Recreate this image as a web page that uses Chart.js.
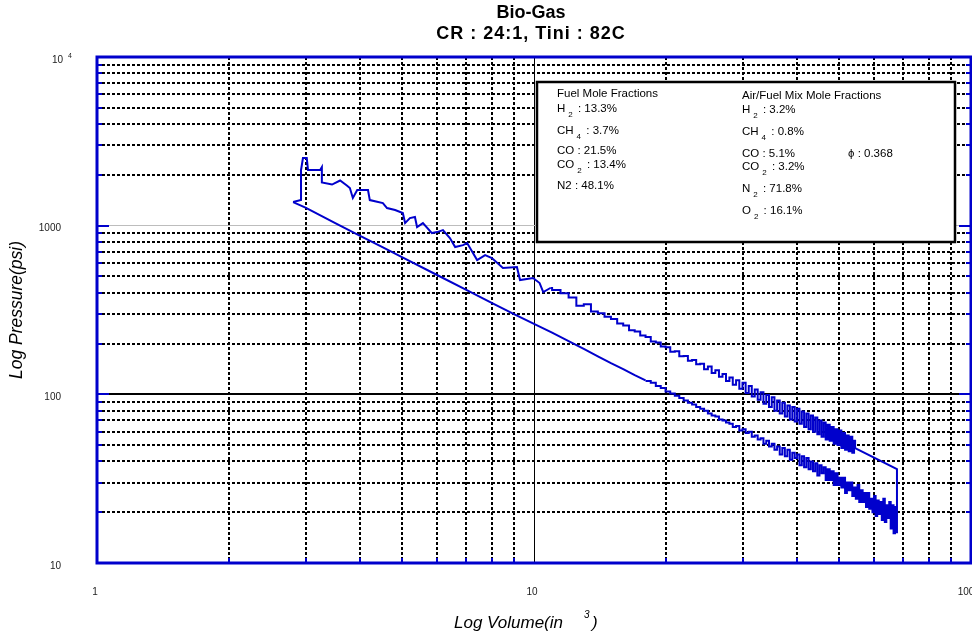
<!DOCTYPE html>
<html>
<head>
<meta charset="utf-8">
<script src="https://cdn.jsdelivr.net/npm/chart.js@4.4.0/dist/chart.umd.min.js"></script>
<style>
  html, body { margin: 0; padding: 0; background: #fff; }
  #wrap { width: 972px; height: 635px; }
</style>
</head>
<body>
<div id="wrap"><canvas id="pv" width="972" height="635"></canvas></div>
<script>
// chart texts
const titleLines = ['Bio-Gas', 'CR : 24:1, Tini : 82C'];
const xTitle = 'Log Volume(in';
const xTitleSup = '3';
const yTitle = 'Log Pressure(psi)';
const xTickValues = [1, 10, 100];
const xTickLabels = ['1', '10', '100'];
const yTickValues = [10, 100, 1000, 10000];
const yTickLabels = ['10', '100', '1000', '10'];
const yTickSup = ['', '', '', '4'];

// legend box texts: [main, subscript, rest]
const fuelHeader = 'Fuel Mole Fractions';
const fuelLines = [['H', '2', ' : 13.3%'], ['CH', '4', ' : 3.7%'], ['CO : 21.5%'], ['CO', '2', ' : 13.4%'], ['N2 : 48.1%']];
const mixHeader = 'Air/Fuel Mix Mole Fractions';
const mixLines = [['H', '2', ' : 3.2%'], ['CH', '4', ' : 0.8%'], ['CO : 5.1%'], ['CO', '2', ' : 3.2%'], ['N', '2', ' : 71.8%'], ['O', '2', ' : 16.1%']];
const phiText = '\u03d5 : 0.368';

// compression stroke, smooth part (volume in^3, pressure psi)
const compressionVolume = [2.81, 3.0, 3.5, 4.0, 4.5, 5.0, 6.0, 7.0, 8.0, 9.0,
  10.0, 11.0, 12.0, 13.0, 14.0, 15.0, 16.0, 17.0, 18.0];
const compressionPressure = [1380, 1280, 1040, 870, 745, 648, 510, 416, 349, 299,
  262, 232, 207, 186, 168, 153, 141, 130, 121];

// compression stroke, noisy part
const noisyVolume = [18, 18.5, 19, 19.5, 20, 20.5, 21, 21.5, 22, 22.5,
  23, 23.5, 24, 24.5, 25, 25.5, 26, 26.5, 27, 27.5,
  28, 28.5, 29, 29.5, 30, 30.5, 31, 31.5, 32, 32.5,
  33, 33.5, 34, 34.5, 35, 35.5, 36, 36.5, 37, 37.5,
  38, 38.5, 39, 39.5, 40, 40.5, 41, 41.5, 42, 42.5,
  43, 43.5, 44, 44.5, 45, 45.5, 46, 46.5, 47, 47.5,
  48, 48.5, 49, 49.5, 50, 50.5, 51, 51.5, 52, 52.5,
  53, 53.5, 54, 54.5, 55, 55.5, 56, 56.5, 57, 57.5,
  58, 58.5, 59, 59.5, 60, 60.5, 61, 61.5, 62, 62.5,
  63, 63.5, 64, 64.5, 65, 65.5, 66, 66.5, 67, 67.5];
const noisyPressure = [120, 117, 112, 109, 104, 101, 98, 95, 92, 89,
  87, 84, 82, 80, 77, 75, 74, 71, 70, 68,
  67, 64, 65, 61, 62, 59, 60, 56, 57, 54,
  55, 51, 53, 49, 51, 47, 49, 44, 48, 43,
  47, 41, 45, 42, 44, 38, 43, 37, 42, 36,
  40, 35, 39, 33, 38, 34, 37, 31, 36, 31,
  35, 29, 34, 29, 32, 28, 32, 26, 30, 27,
  30, 25, 28, 24, 29, 23, 27, 23, 26, 21.5,
  26, 21, 24, 20, 25, 19, 23.5, 19.5, 23, 18,
  24, 17.5, 22, 18.5, 23, 16, 22, 15, 21.5, 20];

// combustion and early expansion (traced corners)
const expansionVolume = [2.81, 2.93, 2.93, 2.96, 3.02, 3.04, 3.24, 3.27, 3.27, 3.45,
  3.60, 3.73, 3.79, 3.85, 3.94, 4.17, 4.21, 4.51, 4.61, 4.81,
  5.01, 5.07, 5.20, 5.34, 5.40, 5.57, 5.84, 6.00, 6.19, 6.42,
  6.60, 6.88, 7.03, 7.41, 7.73, 8.01, 8.49, 9.14, 9.29, 9.95,
  10.3, 10.5, 10.9];
const expansionPressure = [1380, 1419, 2138, 2518, 2518, 2138, 2138, 2225, 1803, 1753,
  1852, 1730, 1671, 1458, 1626, 1626, 1418, 1361, 1272, 1238,
  1188, 1036, 1109, 1125, 981, 1036, 904, 916, 942, 844,
  747, 767, 789, 625, 669, 643, 561, 568, 476, 489,
  457, 404, 427];

// late expansion, noisy
const lateVolume = [10.9, 11, 11.5, 12, 12.5, 13, 13.5, 14,
  14.5, 15, 15.5, 16, 16.5, 17, 17.5, 18, 18.5, 19,
  19.5, 20, 20.5, 21, 21.5, 22, 22.5, 23, 23.5, 24,
  24.5, 25, 25.5, 26, 26.5, 27, 27.5, 28, 28.5, 29,
  29.5, 30, 30.5, 31, 31.5, 32, 32.5, 33, 33.5, 34,
  34.5, 35, 35.5, 36, 36.5, 37, 37.5, 38, 38.5, 39,
  39.5, 40, 40.5, 41, 41.5, 42, 42.5, 43, 43.5, 44,
  44.5, 45, 45.5, 46, 46.5, 47, 47.5, 48, 48.5, 49,
  49.5, 50, 50.5, 51, 51.5, 52, 52.5, 53, 53.5, 54,
  54.3];
const latePressure = [427, 415, 398, 375, 335, 342, 310, 302,
  288, 280, 263, 256, 240, 236, 223, 219, 206, 203,
  192, 190, 179, 180, 168, 169, 158, 160, 151, 152,
  141, 146, 134, 139, 127, 132, 120, 126, 114, 121,
  108, 117, 102, 112, 97, 107, 93, 103, 88, 99,
  84, 96, 80, 92, 77, 89, 74, 86, 71, 84,
  69, 82, 67, 79, 64, 77, 62, 75, 60, 73,
  58, 70, 56, 68, 54, 66, 53, 64, 51, 62,
  50, 61, 48, 59, 47, 57, 46, 56, 45, 53,
  48];

// end of expansion and blowdown
const blowdownVolume = [54.3, 67.7, 67.7];
const blowdownPressure = [48, 36, 15];

const BLUE = 'rgb(0,0,204)';
const FONT = '"Liberation Sans", Arial, sans-serif';

function toPoints(vols, press) {
  return vols.map((v, i) => ({ x: v, y: press[i] }));
}

function isDecade(v) {
  const l = Math.log10(v);
  return Math.abs(l - Math.round(l)) < 1e-6;
}

// 1..9, 10..90, ... grid positions for a log axis
function logGrid(min, max) {
  const out = [];
  for (let d = min; d < max; d *= 10) {
    for (let k = 1; k < 10; k++) out.push(k * d);
  }
  out.push(max);
  return out;
}

function drawChem(ctx, x, y, parts) {
  ctx.font = '11.5px ' + FONT;
  ctx.fillText(parts[0], x, y);
  if (parts.length === 1) return;
  x += ctx.measureText(parts[0]).width + 3;
  ctx.font = '8px ' + FONT;
  ctx.fillText(parts[1], x, y + 6);
  x += ctx.measureText(parts[1]).width + 2;
  ctx.font = '11.5px ' + FONT;
  ctx.fillText(parts[2], x, y);
}

const framePlugin = {
  id: 'frame',
  beforeDatasetsDraw(chart) {
    const { ctx, chartArea: a, scales: { x, y } } = chart;
    ctx.save();
    ctx.strokeStyle = BLUE;
    ctx.lineWidth = 2;
    y.ticks.forEach(t => {
      const py = Math.round(y.getPixelForValue(t.value));
      const len = isDecade(t.value) ? 12 : 5;
      ctx.beginPath();
      ctx.moveTo(a.left, py); ctx.lineTo(a.left + len, py);
      ctx.moveTo(a.right - len, py); ctx.lineTo(a.right, py);
      ctx.stroke();
    });
    x.ticks.forEach(t => {
      if (isDecade(t.value)) return;
      const px = Math.round(x.getPixelForValue(t.value));
      ctx.beginPath();
      ctx.moveTo(px, a.bottom); ctx.lineTo(px, a.bottom - 5);
      ctx.stroke();
    });

    // mole fraction box
    ctx.fillStyle = '#fff';
    ctx.fillRect(537, 82, 418, 160);
    ctx.strokeStyle = '#000';
    ctx.lineWidth = 2.5;
    ctx.strokeRect(537, 82, 418, 160);
    ctx.fillStyle = '#000';
    ctx.textAlign = 'left';
    ctx.textBaseline = 'middle';
    ctx.font = '11.5px ' + FONT;
    ctx.fillText(fuelHeader, 557, 94);
    ctx.fillText(mixHeader, 742, 96);
    const fuelY = [109, 131, 151, 165, 185.5];
    fuelLines.forEach((p, i) => drawChem(ctx, 557, fuelY[i], p));
    const mixY = [110, 132, 154, 167, 188.5, 210.5];
    mixLines.forEach((p, i) => drawChem(ctx, 742, mixY[i], p));
    ctx.font = '11.5px ' + FONT;
    ctx.fillText(phiText, 848, 154);
    ctx.restore();
  },
  afterDraw(chart) {
    const { ctx, chartArea: a, scales: { x, y } } = chart;
    ctx.save();
    ctx.strokeStyle = BLUE;
    ctx.lineWidth = 3;
    ctx.strokeRect(a.left, a.top, a.right - a.left, a.bottom - a.top);

    ctx.fillStyle = '#000';
    ctx.textBaseline = 'middle';
    ctx.textAlign = 'center';
    ctx.font = 'bold 18px ' + FONT;
    ctx.fillText(titleLines[0], 531, 13);
    if ('letterSpacing' in ctx) ctx.letterSpacing = '1px';
    ctx.fillText(titleLines[1], 531, 34);
    if ('letterSpacing' in ctx) ctx.letterSpacing = '0px';

    ctx.font = '10px ' + FONT;
    ctx.fillStyle = '#222';
    xTickValues.forEach((v, i) => {
      let px = x.getPixelForValue(v) - 2;
      if (i === xTickValues.length - 1) px = 966;
      ctx.fillText(xTickLabels[i], px, 592);
    });
    yTickValues.forEach((v, i) => {
      const py = y.getPixelForValue(v);
      ctx.font = '10px ' + FONT;
      ctx.textAlign = 'right';
      ctx.fillText(yTickLabels[i], yTickSup[i] ? 63 : 61, py + 3);
      if (yTickSup[i]) {
        ctx.textAlign = 'left';
        ctx.font = '7px ' + FONT;
        ctx.fillText(yTickSup[i], 68, py - 1);
      }
    });

    ctx.fillStyle = '#000';
    ctx.font = 'italic 17px ' + FONT;
    ctx.textAlign = 'left';
    ctx.fillText(xTitle, 454, 623);
    const w = ctx.measureText(xTitle).width;
    ctx.font = 'italic 10px ' + FONT;
    ctx.fillText(xTitleSup, 454 + w + 21, 615);
    ctx.font = 'italic 17px ' + FONT;
    ctx.fillText(')', 454 + w + 29, 623);

    ctx.translate(17, 310);
    ctx.rotate(-Math.PI / 2);
    ctx.textAlign = 'center';
    ctx.font = 'italic 17.5px ' + FONT;
    ctx.fillText(yTitle, 0, 0);
    ctx.restore();
  }
};

function lineSet(points, stepped) {
  return {
    data: points,
    showLine: true,
    stepped: stepped,
    borderColor: BLUE,
    backgroundColor: BLUE,
    borderWidth: 2,
    pointRadius: 0,
    fill: false
  };
}

const ctx = document.getElementById('pv').getContext('2d');
new Chart(ctx, {
  type: 'scatter',
  data: {
    datasets: [
      lineSet(toPoints(compressionVolume, compressionPressure), false),
      lineSet(toPoints(noisyVolume, noisyPressure), 'before'),
      lineSet(toPoints(expansionVolume, expansionPressure), false),
      lineSet(toPoints(lateVolume, latePressure), 'before'),
      lineSet(toPoints(blowdownVolume, blowdownPressure), false)
    ]
  },
  options: {
    responsive: false,
    animation: false,
    events: [],
    layout: { padding: { top: 57, right: 1, left: 0, bottom: 0 } },
    plugins: { legend: { display: false }, tooltip: { enabled: false }, title: { display: false } },
    scales: {
      x: {
        type: 'logarithmic',
        min: 1,
        max: 100,
        afterBuildTicks: s => { s.ticks = logGrid(1, 100).map(v => ({ value: v })); },
        afterFit: s => { s.height = 72; },
        ticks: { display: false, autoSkip: false },
        grid: {
          drawTicks: false,
          color: c => (c.tick && (c.tick.value === 1 || c.tick.value === 100)) ? 'rgba(0,0,0,0)' : '#000',
          lineWidth: c => (c.tick && c.tick.value === 10) ? 1 : 2
        },
        border: { display: false, dash: c => (c.tick && !isDecade(c.tick.value)) ? [3, 2] : [] }
      },
      y: {
        type: 'logarithmic',
        min: 10,
        max: 10000,
        afterBuildTicks: s => { s.ticks = logGrid(10, 10000).map(v => ({ value: v })); },
        afterFit: s => { s.width = 97; },
        ticks: { display: false, autoSkip: false },
        grid: {
          drawTicks: false,
          color: c => {
            if (!c.tick) return '#000';
            const v = c.tick.value;
            if (v === 10 || v === 10000) return 'rgba(0,0,0,0)';
            if (v === 1000) return '#bdbdbd';
            return '#000';
          },
          lineWidth: c => (c.tick && c.tick.value === 1000) ? 1 : 2
        },
        border: { display: false, dash: c => (c.tick && !isDecade(c.tick.value)) ? [3, 2] : [] }
      }
    }
  },
  plugins: [framePlugin]
});
</script>
</body>
</html>
